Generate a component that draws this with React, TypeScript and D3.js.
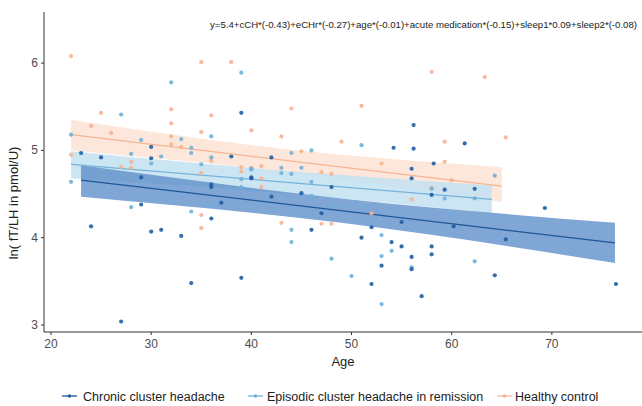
import React from "react";
import * as d3 from "d3";

// ---- data ----
const groups = ["Chronic cluster headache", "Episodic cluster headache in remission", "Healthy control"];

const chronicPts: [number, number][] = [
  [24, 4.13], [27, 3.04], [30, 4.07], [31, 4.09], [33, 4.02], [34, 3.48], [29, 4.38], [36, 4.22],
  [37, 4.4], [39, 3.54], [23, 4.97], [25, 4.92], [30, 5.04], [30, 4.91], [29, 4.69], [39, 5.43],
  [38, 4.93], [40, 4.69], [36, 4.61], [36, 4.58], [56.2, 5.29], [54.2, 5.03], [56.2, 5.02], [58.2, 4.85],
  [42, 4.92], [56, 4.79], [56, 4.68], [40, 4.68], [48, 4.58], [58, 4.49], [42, 4.47], [45, 4.51],
  [47, 4.28], [55, 4.18], [52, 4.12], [46, 4.09], [51, 4.0], [54, 3.95], [55, 3.9], [58, 3.9],
  [58, 3.81], [56, 3.78], [53, 3.68], [56, 3.64], [52, 3.47], [57, 3.33], [69.3, 4.34], [65.4, 3.98],
  [64.3, 3.57], [76.4, 3.47], [60.2, 4.13], [59.3, 4.55], [62.3, 4.56], [61.3, 5.08],
];

const episodicPts: [number, number][] = [
  [22, 4.64], [22, 5.18], [27, 5.41], [32, 5.78], [39, 5.89], [29, 5.12], [33, 5.13], [34, 5.03],
  [34, 4.97], [36, 5.16], [36, 4.92], [31, 4.93], [28, 4.96], [35, 4.84], [30, 4.85], [39, 4.67],
  [40, 4.79], [46, 5.0], [51, 5.06], [44, 4.97], [43, 4.8], [43, 4.74], [45, 4.8], [44, 4.73],
  [40, 4.78], [39, 4.58], [46, 4.64], [58, 4.56], [44, 4.09], [44, 3.95], [48, 3.76], [50, 3.56],
  [53, 4.03], [54, 3.85], [53, 3.79], [56, 3.66], [53, 3.24], [49, 4.36], [48, 4.36], [51, 4.36],
  [46, 4.48], [41, 4.38], [62.3, 3.73], [64.3, 4.71], [59.3, 4.45], [62.3, 4.45], [60, 4.28],
  [28, 4.35], [34, 4.3], [36, 4.36],
];

const healthyPts: [number, number][] = [
  [22, 6.08], [22, 4.95], [24, 5.28], [25, 5.43], [26, 5.2], [27, 4.81], [28, 4.87], [28, 4.8],
  [32, 5.47], [32, 5.31], [32, 5.16], [32, 5.07], [33, 5.04], [35, 6.01], [38, 6.01], [35, 5.21],
  [36, 5.4], [36, 4.88], [35, 4.74], [40, 5.23], [39, 4.81], [39, 4.76], [43, 5.16], [44, 5.48],
  [51, 5.51], [49, 5.1], [58, 5.9], [45, 4.99], [41, 4.82], [47, 4.75], [48, 4.73], [53, 4.85],
  [40, 4.8], [41, 4.68], [63.3, 5.84], [65.4, 5.15], [59.3, 5.1], [59.3, 4.87], [60, 4.66],
  [35, 4.26], [35, 4.11], [43, 4.17], [47, 4.16], [48, 4.16], [52, 4.28], [56, 4.44], [58, 4.57],
  [41, 4.58],
];

// fitted lines: [age, fit, lower, upper]
const chronicFit: [number, number, number, number][] = [
  [23, 4.66, 4.47, 4.83], [49, 4.31, 4.17, 4.45], [76.3, 3.94, 3.71, 4.17],
];
const episodicFit: [number, number, number, number][] = [
  [22, 4.84, 4.68, 4.99], [43, 4.64, 4.51, 4.77], [64, 4.44, 4.28, 4.6],
];
const healthyFit: [number, number, number, number][] = [
  [22, 5.18, 5.0, 5.35], [43, 4.89, 4.76, 5.02], [65, 4.59, 4.41, 4.81],
];

const xTicks = [20, 30, 40, 50, 60, 70];
const yTicks = [3, 4, 5, 6];
const equation =
  "y=5.4+cCH*(-0.43)+eCHr*(-0.27)+age*(-0.01)+acute medication*(-0.15)+sleep1*0.09+sleep2*(-0.08)";

const lineColors = ["#1d5798", "#74b2da", "#f6b694"];
const ribbonColors = ["#5f90c9", "#c3e0f1", "#fde3d4"];
const pointColors = ["#1f5ea3", "#6fb0d9", "#f6b391"];

export default function App() {
  const W = 642;
  const H = 406;
  const x = d3.scaleLinear().domain([19.3, 79]).range([44, 642]);
  const y = d3.scaleLinear().domain([2.92, 6.585]).range([332, 12]);

  const line = d3
    .line<[number, number, number, number]>()
    .x((d) => x(d[0]))
    .y((d) => y(d[1]));
  const area = d3
    .area<[number, number, number, number]>()
    .curve(d3.curveMonotoneX)
    .x((d) => x(d[0]))
    .y0((d) => y(d[2]))
    .y1((d) => y(d[3]));

  const fits = [chronicFit, episodicFit, healthyFit];
  const pts = [chronicPts, episodicPts, healthyPts];
  const font = "'Liberation Sans', Arial, sans-serif";

  const legendX = [62, 248, 497];
  const legendTextX = [83, 267, 515];
  const legendY = 396;

  return (
    <div style={{ position: "fixed", left: 0, top: 0 }}>
      <svg width={W} height={H} style={{ display: "block", background: "#fff" }}>
        {/* ribbons: healthy, episodic, chronic */}
        {[2, 1, 0].map((g) => (
          <path key={"r" + g} d={area(fits[g]) || ""} fill={ribbonColors[g]} opacity={g === 0 ? 0.8 : 0.85} />
        ))}
        {[2, 1, 0].map((g) => (
          <path
            key={"l" + g}
            d={line([fits[g][0], fits[g][fits[g].length - 1]]) || ""}
            fill="none"
            stroke={lineColors[g]}
            strokeWidth={1.3}
          />
        ))}
        {/* points */}
        {[2, 1, 0].map((g) =>
          pts[g].map((p, i) => (
            <circle key={g + "-" + i} cx={x(p[0])} cy={y(p[1])} r={2.1} fill={pointColors[g]} opacity={0.9} />
          ))
        )}
        {/* axes */}
        <line x1={44} x2={44} y1={12} y2={332} stroke="#333" strokeWidth={1} />
        <line x1={44} x2={642} y1={332} y2={332} stroke="#333" strokeWidth={1} />
        {xTicks.map((t) => (
          <g key={"xt" + t}>
            <line x1={x(t)} x2={x(t)} y1={332} y2={335} stroke="#333" />
            <text x={x(t)} y={348} textAnchor="middle" fontSize={12} fill="#4d4d4d" fontFamily={font}>
              {t}
            </text>
          </g>
        ))}
        {yTicks.map((t) => (
          <g key={"yt" + t}>
            <line x1={41} x2={44} y1={y(t)} y2={y(t)} stroke="#333" />
            <text x={38} y={y(t) + 4} textAnchor="end" fontSize={12} fill="#4d4d4d" fontFamily={font}>
              {t}
            </text>
          </g>
        ))}
        <text x={343} y={366} textAnchor="middle" fontSize={13} fill="#222" fontFamily={font}>
          Age
        </text>
        <text
          transform="translate(18,203) rotate(-90)"
          textAnchor="middle"
          fontSize={13}
          fill="#222"
          fontFamily={font}
        >
          ln( fT/LH in pmol/U)
        </text>
        <text
          x={210}
          y={28}
          fontSize={8.7}
          fill="#222"
          fontFamily={font}
          textLength={427}
          lengthAdjust="spacingAndGlyphs"
        >
          {equation}
        </text>
        {/* legend */}
        {groups.map((g, i) => (
          <g key={"lg" + i}>
            <line x1={legendX[i]} x2={legendX[i] + 15} y1={legendY} y2={legendY} stroke={lineColors[i]} strokeWidth={1.3} />
            <circle cx={legendX[i] + 7.5} cy={legendY} r={1.8} fill={pointColors[i]} />
            <text x={legendTextX[i]} y={legendY + 4.5} fontSize={12.5} fill="#222" fontFamily={font}>
              {g}
            </text>
          </g>
        ))}
      </svg>
    </div>
  );
}
